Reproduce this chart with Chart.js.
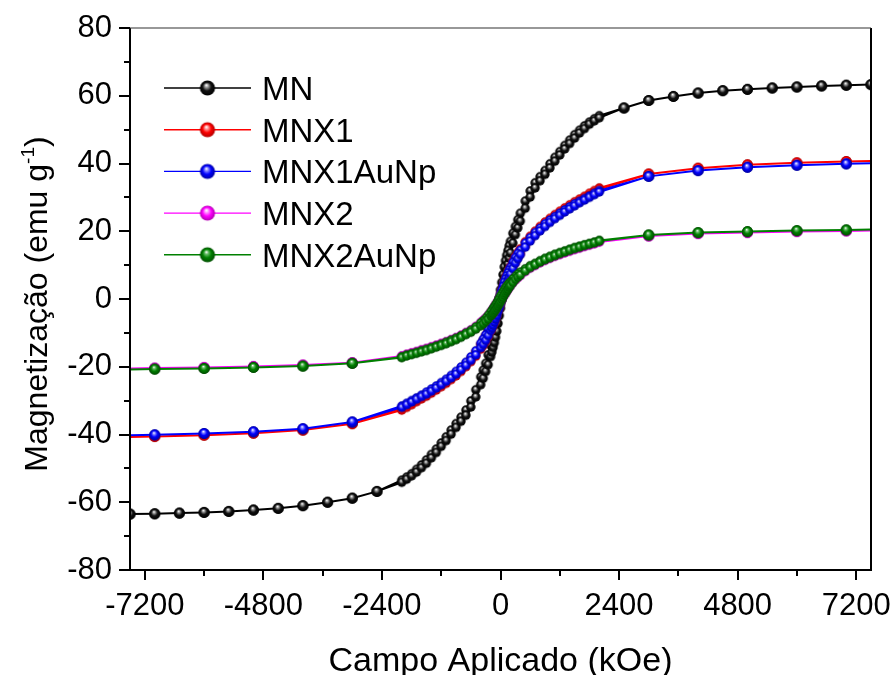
<!DOCTYPE html>
<html><head><meta charset="utf-8">
<script src="https://cdn.jsdelivr.net/npm/chart.js@4.4.1/dist/chart.umd.min.js"></script>
<style>html,body{margin:0;padding:0;background:#fff;}#wrap{width:893px;height:675px;}</style>
</head><body><div id="wrap"><canvas id="c" width="893" height="675"></canvas></div>
<script>
// ---------------- data ----------------
const seriesNames = ['MN', 'MNX1', 'MNX1AuNp', 'MNX2', 'MNX2AuNp'];
const xTickValues = [-7200, -4800, -2400, 0, 2400, 4800, 7200];
const xMinorTickValues = [-6000, -3600, -1200, 1200, 3600, 6000];
const yTickValues = [-80, -60, -40, -20, 0, 20, 40, 60, 80];
const yMinorTickValues = [-70, -50, -30, -10, 10, 30, 50, 70];

// sparse high-field points
const fieldOuterMN = [-7500, -7000, -6500, -6000, -5500, -5000, -4500, -4000, -3500, -3000, -2500,
                      2500, 3000, 3500, 4000, 4500, 5000, 5500, 6000, 6500, 7000, 7500];
const outerMN = [-63.5, -63.4, -63.2, -63.0, -62.7, -62.3, -61.8, -61.0, -60.0, -58.8, -56.8,
                 56.4, 58.6, 59.8, 60.8, 61.5, 61.9, 62.3, 62.6, 62.9, 63.1, 63.3];
const fieldOuterX = [-8000, -7000, -6000, -5000, -4000, -3000, 3000, 4000, 5000, 6000, 7000, 8000];
const outerMNX1 = [-40.9, -40.6, -40.2, -39.6, -38.7, -36.8, 36.9, 38.6, 39.6, 40.2, 40.6, 40.9];
const outerMNX1AuNp = [-40.4, -40.1, -39.7, -39.2, -38.3, -36.3, 36.2, 37.9, 38.9, 39.5, 39.9, 40.2];
const outerMNX2 = [-20.6, -20.4, -20.2, -19.9, -19.5, -18.8, 18.6, 19.3, 19.6, 19.9, 20.1, 20.3];
const outerMNX2AuNp = [-20.9, -20.7, -20.5, -20.2, -19.8, -19.0, 18.9, 19.6, 19.9, 20.2, 20.4, 20.6];

// dense low-field loop (field in ascending order)
const fieldDense = [-2000, -1900, -1800, -1700, -1600, -1500, -1400, -1300, -1200, -1100, -1000, -900, -800, -700, -600, -500,
  -400, -350, -300, -250,
  -200, -175, -150, -125, -100, -75, -50, -25, 0, 25, 50, 75, 100, 125, 150, 175, 200,
  250, 300, 350, 400,
  500, 600, 700, 800, 900, 1000, 1100, 1200, 1300, 1400, 1500, 1600, 1700, 1800, 1900, 2000];

const ascMN = [-54.1, -53.2, -52.2, -51.1, -49.8, -48.5, -46.9, -45.3, -43.5, -41.8, -39.9, -37.9, -36.1, -34.3, -31.9, -28.9,
  -25.3, -23.4, -21.4, -19.4,
  -17.0, -15.7, -14.3, -12.9, -11.3, -9.5, -7.2, -4.9, -2.7, -0.4, 1.8, 4.0, 6.3, 8.4, 10.3, 12.1, 13.6,
  16.5, 19.0, 21.0, 23.0,
  26.8, 30.1, 32.8, 34.9, 36.8, 38.7, 40.7, 42.5, 44.3, 45.9, 47.5, 49.0, 50.3, 51.6, 52.6, 53.5];
const descMN = [-53.5, -52.6, -51.6, -50.3, -49.0, -47.5, -45.9, -44.3, -42.5, -40.7, -38.7, -36.8, -34.9, -32.8, -30.1, -26.8,
  -23.0, -21.0, -19.0, -16.5,
  -13.6, -12.1, -10.3, -8.4, -6.3, -4.0, -1.8, 0.4, 2.7, 4.9, 7.2, 9.5, 11.3, 12.9, 14.3, 15.7, 17.0,
  19.4, 21.4, 23.4, 25.3,
  28.9, 31.9, 34.3, 36.1, 37.9, 39.9, 41.8, 43.5, 45.3, 46.9, 48.5, 49.8, 51.1, 52.2, 53.2, 54.1];

const ascMNX1 = [-32.8, -32.0, -31.2, -30.3, -29.5, -28.7, -27.8, -26.9, -25.9, -24.9, -23.8, -22.7, -21.4, -20.0, -18.5, -16.9,
  -14.8, -13.7, -12.5, -11.1,
  -9.5, -8.7, -7.9, -7.0, -6.0, -5.0, -3.8, -2.7, -1.5, -0.2, 1.0, 2.2, 3.4, 4.5, 5.5, 6.5, 7.5,
  9.2, 10.8, 12.2, 13.4,
  15.6, 17.5, 19.1, 20.6, 21.9, 23.1, 24.3, 25.3, 26.3, 27.2, 28.1, 29.0, 29.9, 30.7, 31.5, 32.4];
const descMNX1 = [-32.4, -31.5, -30.7, -29.9, -29.0, -28.1, -27.2, -26.3, -25.3, -24.3, -23.1, -21.9, -20.6, -19.1, -17.5, -15.6,
  -13.4, -12.2, -10.8, -9.2,
  -7.5, -6.5, -5.5, -4.5, -3.4, -2.2, -1.0, 0.2, 1.5, 2.7, 3.8, 5.0, 6.0, 7.0, 7.9, 8.7, 9.5,
  11.1, 12.5, 13.7, 14.8,
  16.9, 18.5, 20.0, 21.4, 22.7, 23.8, 24.9, 25.9, 26.9, 27.8, 28.7, 29.5, 30.3, 31.2, 32.0, 32.8];

const ascMNX1AuNp = [-32.0, -31.2, -30.4, -29.6, -28.8, -28.1, -27.2, -26.3, -25.3, -24.3, -23.3, -22.2, -20.9, -19.6, -18.1, -16.5,
  -14.4, -13.4, -12.2, -10.8,
  -9.3, -8.5, -7.7, -6.8, -5.9, -4.9, -3.7, -2.6, -1.4, -0.2, 1.0, 2.2, 3.3, 4.4, 5.4, 6.4, 7.3,
  9.0, 10.6, 11.9, 13.1,
  15.3, 17.1, 18.7, 20.1, 21.4, 22.6, 23.7, 24.7, 25.7, 26.6, 27.5, 28.4, 29.2, 30.0, 30.8, 31.6];
const descMNX1AuNp = [-31.6, -30.8, -30.0, -29.2, -28.4, -27.5, -26.6, -25.7, -24.7, -23.7, -22.6, -21.4, -20.1, -18.7, -17.1, -15.3,
  -13.1, -11.9, -10.6, -9.0,
  -7.3, -6.4, -5.4, -4.4, -3.3, -2.2, -1.0, 0.2, 1.4, 2.6, 3.7, 4.9, 5.9, 6.8, 7.7, 8.5, 9.3,
  10.8, 12.2, 13.4, 14.4,
  16.5, 18.1, 19.6, 20.9, 22.2, 23.3, 24.3, 25.3, 26.3, 27.2, 28.1, 28.8, 29.6, 30.4, 31.2, 32.0];

const ascMNX2 = [-17.0, -16.5, -16.1, -15.7, -15.3, -14.9, -14.4, -13.9, -13.4, -12.9, -12.3, -11.7, -11.0, -10.3, -9.6, -8.7,
  -7.7, -7.1, -6.5, -5.8,
  -4.9, -4.5, -4.1, -3.6, -3.1, -2.5, -1.9, -1.3, -0.7, -0.1, 0.5, 1.1, 1.7, 2.3, 2.8, 3.4, 3.9,
  4.8, 5.6, 6.3, 6.9,
  8.1, 9.1, 9.9, 10.7, 11.4, 12.0, 12.6, 13.1, 13.6, 14.1, 14.6, 15.0, 15.5, 15.9, 16.3, 16.8];
const descMNX2 = [-16.8, -16.3, -15.9, -15.5, -15.0, -14.6, -14.1, -13.6, -13.1, -12.6, -12.0, -11.4, -10.7, -9.9, -9.1, -8.1,
  -6.9, -6.3, -5.6, -4.8,
  -3.9, -3.4, -2.8, -2.3, -1.7, -1.1, -0.5, 0.1, 0.7, 1.3, 1.9, 2.5, 3.1, 3.6, 4.1, 4.5, 4.9,
  5.8, 6.5, 7.1, 7.7,
  8.7, 9.6, 10.3, 11.0, 11.7, 12.3, 12.9, 13.4, 13.9, 14.4, 14.9, 15.3, 15.7, 16.1, 16.5, 17.0];

const ascMNX2AuNp = [-17.3, -16.8, -16.4, -16.0, -15.6, -15.2, -14.7, -14.2, -13.7, -13.2, -12.6, -12.0, -11.3, -10.5, -9.8, -8.9,
  -7.9, -7.3, -6.6, -5.9,
  -5.0, -4.6, -4.2, -3.7, -3.2, -2.6, -2.0, -1.4, -0.8, -0.1, 0.5, 1.2, 1.8, 2.4, 2.9, 3.5, 4.0,
  4.9, 5.8, 6.5, 7.1,
  8.3, 9.3, 10.1, 10.9, 11.6, 12.2, 12.8, 13.4, 13.9, 14.4, 14.9, 15.3, 15.8, 16.2, 16.6, 17.1];
const descMNX2AuNp = [-17.1, -16.6, -16.2, -15.8, -15.3, -14.9, -14.4, -13.9, -13.4, -12.8, -12.2, -11.6, -10.9, -10.1, -9.3, -8.3,
  -7.1, -6.5, -5.8, -4.9,
  -4.0, -3.5, -2.9, -2.4, -1.8, -1.2, -0.5, 0.1, 0.8, 1.4, 2.0, 2.6, 3.2, 3.7, 4.2, 4.6, 5.0,
  5.9, 6.6, 7.3, 7.9,
  8.9, 9.8, 10.5, 11.3, 12.0, 12.6, 13.2, 13.7, 14.2, 14.7, 15.2, 15.6, 16.0, 16.4, 16.8, 17.3];

// ---------------- styling ----------------
const FONT = "'Liberation Sans', Arial, Helvetica, sans-serif";
const palette = [
  {line: '#000000', base: '#111111', hi: '#a0a0a0', dark: '#000000'},
  {line: '#ff0000', base: '#ff0000', hi: '#ff9a9a', dark: '#b00000'},
  {line: '#0000ff', base: '#0000ff', hi: '#8a8aff', dark: '#0000a0'},
  {line: '#ff00ff', base: '#ff00ff', hi: '#ff9cff', dark: '#b000b0'},
  {line: '#008000', base: '#008000', hi: '#6cbf6c', dark: '#004d00'}
];

function makeBall(p, r) {
  const s = Math.ceil(r * 2 + 2);
  const c = document.createElement('canvas');
  c.width = s; c.height = s;
  const g = c.getContext('2d');
  const cx = s / 2, cy = s / 2;
  const grad = g.createRadialGradient(cx - r * 0.15, cy - r * 0.38, r * 0.04, cx, cy, r);
  grad.addColorStop(0, '#ffffff');
  grad.addColorStop(0.2, p.hi);
  grad.addColorStop(0.55, p.base);
  grad.addColorStop(1, p.dark);
  g.fillStyle = grad;
  g.beginPath(); g.arc(cx, cy, r, 0, Math.PI * 2); g.fill();
  return c;
}

const balls = palette.map(p => ({big: makeBall(p, 5.4), small: makeBall(p, 4.7), legend: makeBall(p, 7.6)}));

function buildLoop(outerH, outerM, asc, desc) {
  const neg = [], pos = [], pts = [];
  outerH.forEach((h, i) => (h < 0 ? neg : pos).push({x: h, y: outerM[i]}));
  for (let i = pos.length - 1; i >= 0; i--) pts.push(pos[i]);
  for (let i = fieldDense.length - 1; i >= 0; i--) pts.push({x: fieldDense[i], y: desc[i]});
  for (let i = neg.length - 1; i >= 0; i--) pts.push(neg[i]);
  neg.forEach(p => pts.push(p));
  fieldDense.forEach((h, i) => pts.push({x: h, y: asc[i]}));
  pos.forEach(p => pts.push(p));
  return pts;
}

const loops = [
  buildLoop(fieldOuterMN, outerMN, ascMN, descMN),
  buildLoop(fieldOuterX, outerMNX1, ascMNX1, descMNX1),
  buildLoop(fieldOuterX, outerMNX1AuNp, ascMNX1AuNp, descMNX1AuNp),
  buildLoop(fieldOuterX, outerMNX2, ascMNX2, descMNX2),
  buildLoop(fieldOuterX, outerMNX2AuNp, ascMNX2AuNp, descMNX2AuNp)
];

const datasets = seriesNames.map((name, i) => ({
  label: name,
  data: loops[i],
  order: 5 - i,
  borderColor: palette[i].line,
  borderWidth: 2,
  tension: 0,
  pointRadius: 5,
  pointStyle: (ctx) => (ctx.raw && Math.abs(ctx.raw.x) > 2001) ? balls[i].big : balls[i].small
}));

const overlay = {
  id: 'overlay',
  afterDraw(chart) {
    const {ctx, chartArea: a, scales: {x, y}} = chart;
    ctx.save();
    // frame
    ctx.strokeStyle = '#000';
    ctx.lineWidth = 2;
    ctx.beginPath();
    ctx.moveTo(a.left, a.top); ctx.lineTo(a.left, a.bottom); ctx.lineTo(a.right, a.bottom); ctx.lineTo(a.right, a.top);
    ctx.stroke();
    ctx.lineWidth = 1.2; ctx.strokeStyle = '#333';
    ctx.beginPath(); ctx.moveTo(a.left, a.top); ctx.lineTo(a.right, a.top); ctx.stroke();
    // ticks
    ctx.strokeStyle = '#000'; ctx.lineWidth = 2;
    ctx.beginPath();
    xTickValues.forEach(v => { const px = Math.round(x.getPixelForValue(v)); ctx.moveTo(px, a.bottom); ctx.lineTo(px, a.bottom + 10); });
    xMinorTickValues.forEach(v => { const px = Math.round(x.getPixelForValue(v)); ctx.moveTo(px, a.bottom); ctx.lineTo(px, a.bottom + 6); });
    yTickValues.forEach(v => { const py = Math.round(y.getPixelForValue(v)); ctx.moveTo(a.left, py); ctx.lineTo(a.left - 11, py); });
    yMinorTickValues.forEach(v => { const py = Math.round(y.getPixelForValue(v)); ctx.moveTo(a.left, py); ctx.lineTo(a.left - 6, py); });
    ctx.stroke();
    // legend
    const lx0 = a.left + 34, lx1 = a.left + 121, bx = a.left + 77.5, tx = a.left + 132;
    ctx.font = '33px ' + FONT;
    ctx.textBaseline = 'alphabetic';
    ctx.textAlign = 'left';
    chart.data.datasets.forEach((ds, i) => {
      const ry = a.top + 60 + i * 41.7;
      ctx.strokeStyle = ds.borderColor; ctx.lineWidth = 1.4;
      ctx.beginPath(); ctx.moveTo(lx0, ry); ctx.lineTo(lx1, ry); ctx.stroke();
      const b = balls[i].legend;
      ctx.drawImage(b, bx - b.width / 2, ry - b.height / 2);
      ctx.fillStyle = '#000';
      ctx.fillText(ds.label, tx, ry + 12);
    });
    // x title
    ctx.font = '34px ' + FONT;
    ctx.textAlign = 'center';
    ctx.fillText('Campo Aplicado (kOe)', (a.left + a.right) / 2, 671);
    // y title with superscript
    ctx.translate(47, (a.top + a.bottom) / 2 + 5);
    ctx.rotate(-Math.PI / 2);
    const main = 'Magnetização (emu g', sup = '-1', close = ')';
    ctx.font = '32px ' + FONT;
    const w1 = ctx.measureText(main).width, w3 = ctx.measureText(close).width;
    ctx.font = '19px ' + FONT;
    const w2 = ctx.measureText(sup).width;
    let sx = -(w1 + w2 + w3) / 2;
    ctx.textAlign = 'left';
    ctx.font = '32px ' + FONT; ctx.fillText(main, sx, 0); sx += w1;
    ctx.font = '19px ' + FONT; ctx.fillText(sup, sx, -13); sx += w2;
    ctx.font = '32px ' + FONT; ctx.fillText(close, sx, 0);
    ctx.restore();
  }
};

new Chart(document.getElementById('c'), {
  type: 'line',
  data: {datasets},
  options: {
    responsive: false,
    animation: false,
    devicePixelRatio: 1,
    layout: {padding: {top: 28, right: 22, left: 0, bottom: 0}},
    plugins: {legend: {display: false}, tooltip: {enabled: false}, title: {display: false}},
    scales: {
      x: {
        type: 'linear', min: -7500, max: 7500,
        grid: {display: false, drawTicks: false},
        border: {display: false},
        ticks: {autoSkip: false, color: '#000', font: {family: FONT, size: 31}, padding: 18, maxRotation: 0,
                callback: v => String(v)},
        afterBuildTicks: s => { s.ticks = xTickValues.map(v => ({value: v})); },
        afterFit: s => { s.height = 105; s.paddingLeft = 0; s.paddingRight = 0; }
      },
      y: {
        type: 'linear', min: -80, max: 80,
        grid: {display: false, drawTicks: false},
        border: {display: false},
        ticks: {color: '#000', font: {family: FONT, size: 31}, padding: 18, callback: v => String(v)},
        afterBuildTicks: s => { s.ticks = yTickValues.map(v => ({value: v})); },
        afterFit: s => { s.width = 130; s.paddingTop = 0; s.paddingBottom = 0; }
      }
    }
  },
  plugins: [overlay]
});
</script>
</body></html>
